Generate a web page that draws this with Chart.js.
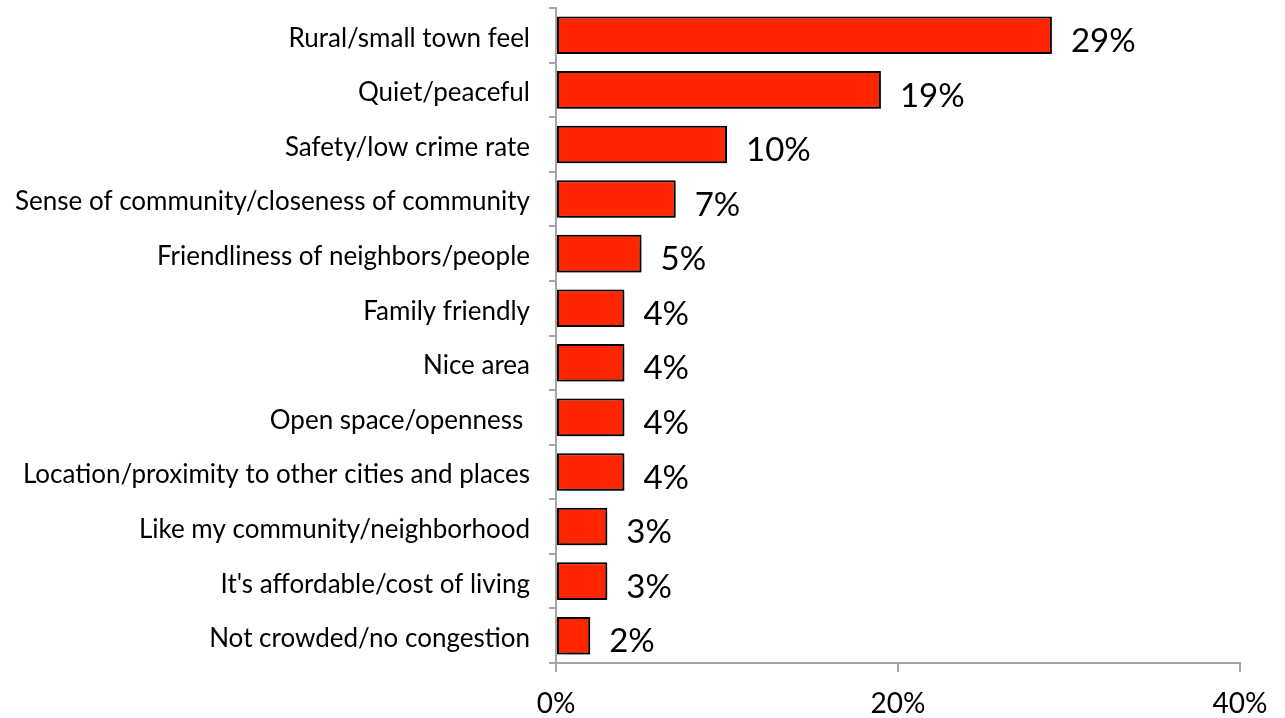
<!DOCTYPE html>
<html>
<head>
<meta charset="utf-8">
<script src="https://cdn.jsdelivr.net/npm/chart.js@4/dist/chart.umd.min.js"></script>
<style>
  html, body { margin: 0; padding: 0; background: #fff; }
  #wrap { width: 1285px; height: 718px; }
</style>
</head>
<body>
<div id="wrap"><canvas id="chart" width="1285" height="718"></canvas></div>
<script>
// reasons people like living here, share of responses (%)
const categories = [
  'Rural/small town feel',
  'Quiet/peaceful',
  'Safety/low crime rate',
  'Sense of community/closeness of community',
  'Friendliness of neighbors/people',
  'Family friendly',
  'Nice area',
  'Open space/openness ',
  'Location/proximity to other cities and places',
  'Like my community/neighborhood',
  "It's affordable/cost of living",
  'Not crowded/no congestion'
];
const shares = [29, 19, 10, 7, 5, 4, 4, 4, 4, 3, 3, 2];
const xTicks = [0, 20, 40];

const FONT = 'Lato, "Open Sans", sans-serif';
const AXIS_GRAY = '#a6a6a6';

// soft drop shadow under the bars
const barShadow = {
  id: 'barShadow',
  beforeDatasetsDraw(chart) {
    const ctx = chart.ctx;
    ctx.save();
    ctx.shadowColor = 'rgba(0,0,0,0.45)';
    ctx.shadowBlur = 5;
    ctx.shadowOffsetX = 3;
    ctx.shadowOffsetY = 3;
  },
  afterDatasetsDraw(chart) {
    chart.ctx.restore();
  }
};

// percentage text to the right of each bar
const valueLabels = {
  id: 'valueLabels',
  afterDatasetsDraw(chart) {
    const ctx = chart.ctx;
    const meta = chart.getDatasetMeta(0);
    ctx.save();
    ctx.shadowColor = 'transparent';
    ctx.font = '33px ' + FONT;
    ctx.fillStyle = '#000';
    ctx.textBaseline = 'middle';
    ctx.textAlign = 'left';
    meta.data.forEach((bar, i) => {
      ctx.fillText(shares[i] + '%', bar.x + 19, bar.y + 6);
    });
    ctx.restore();
  }
};

new Chart(document.getElementById('chart'), {
  type: 'bar',
  data: {
    labels: categories,
    datasets: [{
      data: shares,
      backgroundColor: '#ff2600',
      borderColor: '#000',
      borderWidth: 2,
      borderSkipped: false,
      barPercentage: 0.69,
      categoryPercentage: 1
    }]
  },
  options: {
    indexAxis: 'y',
    responsive: false,
    animation: false,
    devicePixelRatio: 1,
    layout: { padding: { top: 8, right: 45, left: 0, bottom: 0 } },
    plugins: {
      legend: { display: false },
      tooltip: { enabled: false }
    },
    scales: {
      x: {
        min: 0,
        max: 40,
        afterBuildTicks(scale) { scale.ticks = xTicks.map(v => ({ value: v })); },
        afterFit(scale) { scale.height = 55; },
        border: { color: AXIS_GRAY, width: 2 },
        grid: { drawOnChartArea: false, color: AXIS_GRAY, lineWidth: 2, tickLength: 9 },
        ticks: {
          color: '#000',
          font: { family: FONT, size: 28 },
          padding: 15,
          callback: v => v + '%'
        }
      },
      y: {
        afterFit(scale) {
          scale.width = 556;
          scale.paddingTop = 0;
          scale.paddingBottom = 0;
        },
        border: { color: AXIS_GRAY, width: 2 },
        grid: { drawOnChartArea: false, offset: true, color: AXIS_GRAY, lineWidth: 2, tickLength: 7 },
        ticks: {
          color: '#000',
          font: { family: FONT, size: 26 },
          padding: 19,
          labelOffset: 3
        }
      }
    }
  },
  plugins: [barShadow, valueLabels]
});
</script>
</body>
</html>
